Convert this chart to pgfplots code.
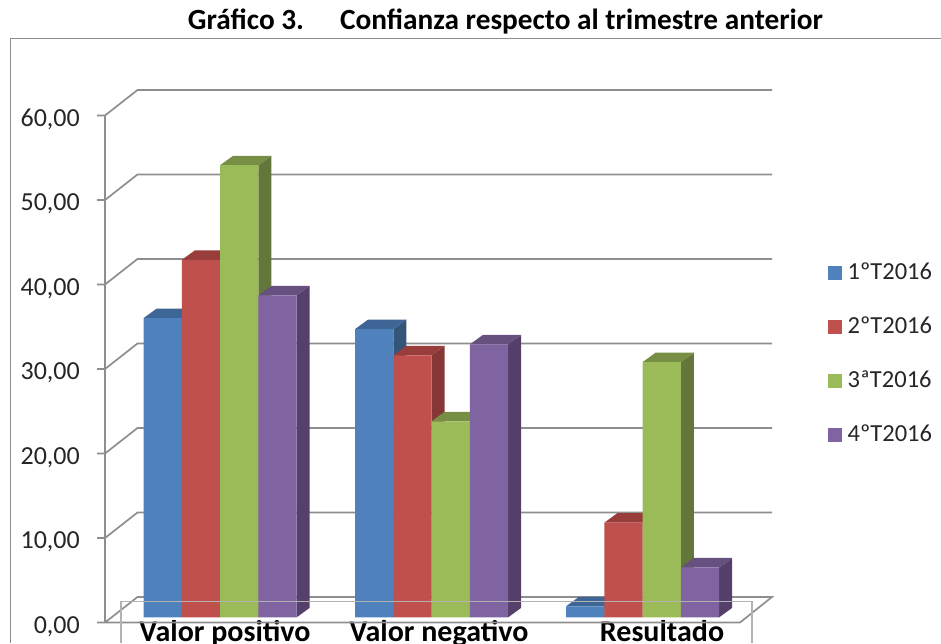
\documentclass[border=0pt]{standalone}
\usepackage{pgfplots}
\pgfplotsset{compat=1.18}
\usepackage{fontspec}
\setmainfont{Carlito}
\definecolor{blueF}{HTML}{4F81BD}\definecolor{blueT}{HTML}{3D6596}\definecolor{blueS}{HTML}{335578}
\definecolor{redF}{HTML}{C0504D}\definecolor{redT}{HTML}{983D3A}\definecolor{redS}{HTML}{843735}
\definecolor{greenF}{HTML}{9BBB59}\definecolor{greenT}{HTML}{768F45}\definecolor{greenS}{HTML}{64773A}
\definecolor{purpleF}{HTML}{8064A2}\definecolor{purpleT}{HTML}{65507F}\definecolor{purpleS}{HTML}{553F6B}
\definecolor{gridc}{HTML}{8E8E8E}
\pgfplotsset{
  face/.style={forget plot, draw=none, fill=#1, yshift=5.2pt},
  front/.style={ybar, bar width=38.3pt, bar shift=0pt, draw=none, fill=#1, yshift=5.2pt},
  gridl/.style={forget plot, draw=gridc, line width=1.7pt},
}
\begin{document}
\begin{tikzpicture}
\useasboundingbox (0,0) rectangle (941pt,643pt);
\clip (0,0) rectangle (941pt,643pt);
\begin{axis}[
  at={(0,0)}, anchor=south west, scale only axis, width=941pt, height=643pt,
  xmin=0, xmax=941, ymin=-2.426, ymax=73.669,
  axis line style={draw=none}, major tick length=0pt,
  ytick={0,10,20,30,40,50,60},
  yticklabels={{0,00},{10,00},{20,00},{30,00},{40,00},{50,00},{60,00}},
  yticklabel style={anchor=east, xshift=80pt, yshift=-4pt, font=\fontsize{26}{26}\selectfont, text=black!85, inner sep=0pt},
  xtick={225,439,662},
  xticklabels={Valor positivo,Valor negativo,Resultado},
  xticklabel style={anchor=base, yshift=2pt, font=\fontsize{30}{30}\selectfont\bfseries, text=black, inner sep=0pt},
  title={Gráfico 3.\hspace{36pt}Confianza respecto al trimestre anterior},
  title style={at={(0.5372,0.9445)}, anchor=base, inner sep=0pt, font=\fontsize{29.3}{29.3}\selectfont\bfseries},
  legend style={at={(827.5pt,380pt)}, anchor=north west, draw=none, fill=none,
    font=\fontsize{24.5}{24.5}\selectfont, text=black!85, row sep=35.7pt, inner sep=0pt, nodes={inner sep=0pt}},
  legend cell align=left,
  legend image code/.code={\fill[#1] (0pt,-13pt) rectangle (14pt,1pt);\path (20pt,0pt);},
]
% outer border
\addplot[forget plot, draw=gridc, line width=1pt] coordinates {(10.5,-2.426)(10.5,69.11)(941,69.11)};
% walls: gridlines
\addplot[gridl] coordinates {(105,0)(137.5,3.02)(772,3.02)(740,0)(97,0)};
\addplot[gridl] coordinates {(97,10)(105,10)(137.5,13.02)(772,13.02)};
\addplot[gridl] coordinates {(97,20)(105,20)(137.5,23.02)(772,23.02)};
\addplot[gridl] coordinates {(97,30)(105,30)(137.5,33.02)(772,33.02)};
\addplot[gridl] coordinates {(97,40)(105,40)(137.5,43.02)(772,43.02)};
\addplot[gridl] coordinates {(97,50)(105,50)(137.5,53.02)(772,53.02)};
\addplot[gridl] coordinates {(97,60)(105,60)(137.5,63.02)(772,63.02)};
\addplot[gridl] coordinates {(105,0)(105,60)};
% series 1
\addplot[face=blueS] coordinates {(181.8,0)(181.8,35.4)(194.8,36.52)(194.8,1.12)} --cycle;
\addplot[face=blueT] coordinates {(143.5,35.4)(181.8,35.4)(194.8,36.52)(156.5,36.52)} --cycle;
\addplot[face=blueS] coordinates {(393.3,0)(393.3,34.1)(406.3,35.22)(406.3,1.12)} --cycle;
\addplot[face=blueT] coordinates {(355,34.1)(393.3,34.1)(406.3,35.22)(368,35.22)} --cycle;
\addplot[face=blueS] coordinates {(604.3,0)(604.3,1.3)(617.3,2.42)(617.3,1.12)} --cycle;
\addplot[face=blueT] coordinates {(566,1.3)(604.3,1.3)(617.3,2.42)(579,2.42)} --cycle;
\addplot[front=blueF] coordinates {(162.65,35.4)(374.15,34.1)(585.15,1.3)};
\addlegendentry{1ºT2016}
% series 2
\addplot[face=redS] coordinates {(220.1,0)(220.1,42.3)(233.1,43.42)(233.1,1.12)} --cycle;
\addplot[face=redT] coordinates {(181.8,42.3)(220.1,42.3)(233.1,43.42)(194.8,43.42)} --cycle;
\addplot[face=redS] coordinates {(431.6,0)(431.6,31.0)(444.6,32.12)(444.6,1.12)} --cycle;
\addplot[face=redT] coordinates {(393.3,31.0)(431.6,31.0)(444.6,32.12)(406.3,32.12)} --cycle;
\addplot[face=redS] coordinates {(642.6,0)(642.6,11.2)(655.6,12.32)(655.6,1.12)} --cycle;
\addplot[face=redT] coordinates {(604.3,11.2)(642.6,11.2)(655.6,12.32)(617.3,12.32)} --cycle;
\addplot[front=redF] coordinates {(200.95,42.3)(412.45,31.0)(623.45,11.2)};
\addlegendentry{2ºT2016}
% series 3
\addplot[face=greenS] coordinates {(258.4,0)(258.4,53.5)(271.4,54.62)(271.4,1.12)} --cycle;
\addplot[face=greenT] coordinates {(220.1,53.5)(258.4,53.5)(271.4,54.62)(233.1,54.62)} --cycle;
\addplot[face=greenS] coordinates {(469.9,0)(469.9,23.2)(482.9,24.32)(482.9,1.12)} --cycle;
\addplot[face=greenT] coordinates {(431.6,23.2)(469.9,23.2)(482.9,24.32)(444.6,24.32)} --cycle;
\addplot[face=greenS] coordinates {(680.9,0)(680.9,30.2)(693.9,31.32)(693.9,1.12)} --cycle;
\addplot[face=greenT] coordinates {(642.6,30.2)(680.9,30.2)(693.9,31.32)(655.6,31.32)} --cycle;
\addplot[front=greenF] coordinates {(239.25,53.5)(450.75,23.2)(661.75,30.2)};
\addlegendentry{3ªT2016}
% series 4
\addplot[face=purpleS] coordinates {(296.7,0)(296.7,38.1)(309.7,39.22)(309.7,1.12)} --cycle;
\addplot[face=purpleT] coordinates {(258.4,38.1)(296.7,38.1)(309.7,39.22)(271.4,39.22)} --cycle;
\addplot[face=purpleS] coordinates {(508.2,0)(508.2,32.3)(521.2,33.42)(521.2,1.12)} --cycle;
\addplot[face=purpleT] coordinates {(469.9,32.3)(508.2,32.3)(521.2,33.42)(482.9,33.42)} --cycle;
\addplot[face=purpleS] coordinates {(719.2,0)(719.2,5.9)(732.2,7.02)(732.2,1.12)} --cycle;
\addplot[face=purpleT] coordinates {(680.9,5.9)(719.2,5.9)(732.2,7.02)(693.9,7.02)} --cycle;
\addplot[front=purpleF] coordinates {(277.55,38.1)(489.05,32.3)(700.05,5.9)};
\addlegendentry{4ºT2016}
% overlay frame around the axis foot
\addplot[forget plot, draw=black!30, line width=1.8pt] coordinates {(121,-2.426)(121,2.49)(752,2.49)(752,-2.426)};
\end{axis}
\end{tikzpicture}
\end{document}
